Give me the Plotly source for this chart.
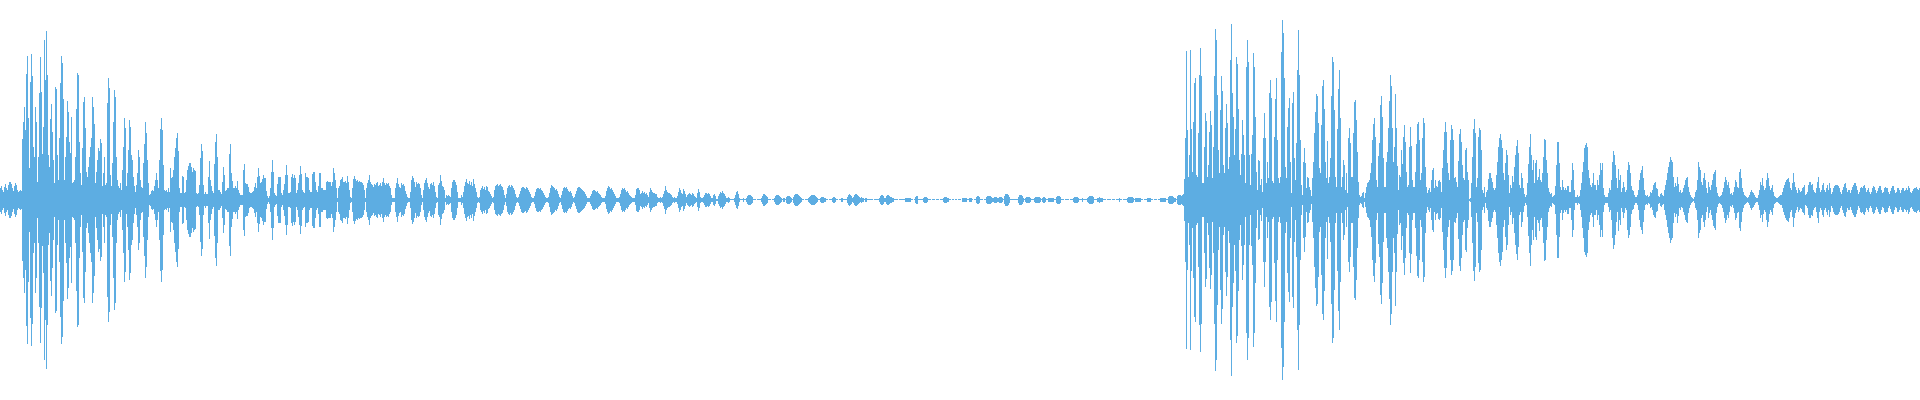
import plotly.graph_objects as go

# Peak amplitude per pixel column (symmetric waveform envelope)
amp_attack_1 = [
    12,14,10,8,13,16,12,10,15,18,
    18,16,12,9,14,17,15,10,8,9,
    10,9,61,78,93,70,126,144,82,32,
    118,146,124,53,43,93,78,18,43,107,
    143,108,46,73,160,120,169,125,45,33,
    81,96,68,40,17,113,111,45,20,62,
    117,144,137,101,20,43,63,99,88,58,
    47,83,17,18,20,43,91,127,125,58,
    27,15,52,98,103,72,28,23,33,43,
    53,62,103,93,76,17,28,40,52,49,
    61,57,14,27,43,15,17,97,122,112,
    25,14,37,78,110,103,43,20,14,12,
    17,10,30,53,82,72,14,27,50,80,
    73,45,40,23,14,8,15,27,50,43,
    20,13,12,37,56,78,67,40,17,5,
    6,9,10,9,14,20,27,20,12,40,
]
amp_decay_1 = [
    71,82,70,35,10,9,10,8,12,8,
    32,22,23,30,43,52,62,67,49,12,
    7,7,24,23,7,8,20,30,34,37,
    37,33,28,32,30,29,7,6,7,15,
    42,56,49,15,6,8,6,6,23,39,
    20,14,9,7,36,58,66,43,10,10,
    8,6,18,33,25,9,10,12,12,46,
    56,27,19,12,12,14,12,19,10,7,
    5,5,5,30,36,17,16,16,13,8,
    7,7,8,9,13,17,12,23,32,24,
    17,18,21,25,22,22,9,4,2,4,
    12,28,40,28,7,5,4,16,23,23,
    23,7,5,10,16,25,35,25,7,7,
    8,23,26,22,25,22,7,10,17,25,
    34,26,10,8,7,27,23,23,22,10,
    8,8,26,28,28,18,10,8,14,27,
    27,12,12,10,10,10,18,19,18,18,
]
amp_tail_1 = [
    18,14,18,32,27,20,12,2,12,14,
    20,21,23,18,18,19,17,24,18,10,
    3,2,12,21,24,21,19,20,18,19,
    18,18,17,15,10,2,12,17,20,25,
    18,16,15,13,16,15,17,18,14,15,
    17,14,18,22,17,15,17,16,17,14,
    12,5,2,2,2,12,17,22,16,13,
    12,17,15,16,14,9,6,3,2,2,
    8,20,24,22,18,13,18,16,17,16,
    12,5,2,10,17,20,22,17,13,11,
    16,17,15,18,14,8,3,2,15,17,
    25,19,14,13,10,2,5,4,5,4,
    3,12,18,20,20,18,15,8,2,2,
    2,5,3,8,14,18,21,17,16,19,
    15,18,14,21,16,12,8,3,2,3,
    10,12,14,11,13,10,14,13,9,8,
    6,4,2,3,10,14,15,16,14,15,
    16,14,13,10,5,2,6,12,14,15,
    13,15,14,12,10,6,3,2,3,6,
    9,12,13,13,12,11,13,12,10,8,
    6,3,2,2,4,8,11,12,12,11,
    12,10,9,7,5,3,2,2,3,7,
    12,15,14,13,12,10,11,9,6,3,
    2,5,9,12,13,12,13,11,9,8,
    9,7,4,2,3,6,9,12,13,13,
    12,11,10,9,8,6,4,2,2,2,
    4,6,9,10,10,9,8,9,7,6,
    5,3,2,2,2,4,9,12,14,13,
    11,12,10,8,6,4,2,2,2,3,
    6,10,12,11,12,10,8,9,7,5,
    4,3,2,2,2,5,11,12,12,10,
]
amp_quiet = [
    6,7,9,7,8,6,7,5,3,8,
    12,10,8,7,7,6,6,3,2,2,
    3,2,3,6,9,14,10,8,7,7,
    6,5,3,2,3,2,2,4,8,12,
    10,7,6,11,9,6,3,5,6,7,
    6,5,7,6,4,3,2,7,11,8,
    3,2,2,3,5,7,7,6,7,6,
    4,2,2,5,6,4,1,1,4,6,
    8,7,9,7,6,4,2,2,3,2,
    .5,.5,.5,.5,2,5,8,9,6,2,
    .5,.5,.5,2,.5,.5,2,4,5,5,
    5,4,3,.5,.5,.5,0,.5,.5,.5,
    .5,2,4,6,6,5,4,3,.5,.5,
    .5,0,.5,.5,2,4,5,5,5,4,
    3,2,.5,2,2,.5,3,4,4,4,
    3,2,.5,3,5,6,6,6,5,4,
    3,2,.5,.5,0,.5,.5,.5,2,3,
    4,5,5,5,5,4,3,2,.5,.5,
    2,3,3,3,2,2,.5,.5,0,.5,
    .5,.5,2,3,3,2,.5,.5,0,.5,
    .5,2,2,.5,.5,.5,.5,3,5,6,
    5,4,2,3,5,6,6,5,4,3,
    2,3,2,2,.5,2,2,.5,.5,.5,
    .5,.5,.5,0,.5,.5,.5,.5,.5,2,
    4,5,5,4,2,2,4,5,5,4,
    3,3,2,2,.5,.5,.5,.5,0,.5,
    .5,.5,.5,.5,.5,2,2,2,2,2,
    2,.5,.5,0,.5,3,4,4,.5,.5,
    .5,.5,.5,2,3,3,3,2,.5,.5,
    .5,0,.5,.5,.5,0,.5,.5,.5,0,
    .5,.5,.5,2,3,3,3,2,2,.5,
    .5,0,.5,.5,0,.5,.5,0,.5,.5,
    .5,0,2,2,2,2,2,.5,.5,2,
    2,2,.5,0,.5,.5,3,4,4,3,
    .5,.5,.5,0,.5,.5,3,4,4,4,
    4,3,2,2,3,3,3,2,2,3,
    3,3,2,.5,4,6,6,6,5,3,
    .5,.5,.5,.5,.5,.5,.5,.5,3,5,
    5,5,4,2,.5,2,3,3,3,3,
    2,.5,.5,.5,2,3,3,3,3,3,
    2,.5,2,3,3,2,.5,.5,2,2,
    2,2,2,2,.5,.5,3,4,4,4,
    3,.5,.5,.5,0,.5,.5,.5,.5,0,
    .5,.5,.5,2,3,3,3,3,2,.5,
    .5,.5,2,.5,.5,.5,.5,2,3,4,
    4,4,4,3,.5,.5,.5,2,2,3,
    2,2,2,.5,.5,.5,0,.5,.5,.5,
    .5,0,.5,.5,.5,0,.5,.5,.5,2,
    .5,.5,0,.5,.5,.5,.5,2,3,3,
    3,3,3,2,.5,2,2,2,2,2,
    2,.5,.5,0,.5,.5,.5,2,2,2,
    2,.5,.5,0,.5,.5,.5,0,.5,.5,
    2,2,2,2,2,2,.5,.5,3,4,
    4,4,4,3,2,2,.5,4,5,5,
]
amp_attack_2 = [
    5,4,5,6,21,62,149,70,23,45,
    150,71,28,78,117,122,25,23,67,125,
    152,124,17,17,53,87,79,23,35,68,
    89,75,22,53,124,171,160,105,50,27,
    90,124,109,35,27,72,96,77,31,43,
    140,176,107,83,45,71,143,136,91,40,
    25,46,80,65,45,17,133,160,138,45,
    15,46,65,147,133,83,28,10,40,39,
    15,21,8,62,87,62,17,38,22,107,
    120,102,19,17,63,101,122,60,22,17,
    23,148,180,167,122,33,22,73,92,102,
    38,7,97,108,42,20,57,130,170,125,
    60,15,5,38,52,37,12,23,22,13,
    10,4,22,38,67,88,106,104,77,32,
    27,75,114,120,91,38,22,59,17,23,
]
amp_decay_2 = [
    42,104,143,138,90,23,13,71,111,130,
    82,13,23,40,35,10,27,7,62,72,
    57,23,23,67,98,100,80,48,18,5,
    3,4,7,8,2,7,13,17,18,20,
    27,37,60,76,82,63,20,13,44,57,
    95,104,83,42,13,13,38,48,72,99,
    125,114,72,38,53,106,72,34,10,25,
    23,50,36,63,75,58,28,13,15,53,
    73,54,20,13,13,28,56,76,78,60,
    20,27,62,82,77,33,13,7,10,12,
    8,20,30,32,12,20,14,13,19,20,
    18,8,32,50,68,78,68,37,27,20,
    60,75,71,60,22,23,18,13,39,66,
    71,58,35,22,20,50,52,28,20,1,
    2,17,43,71,81,67,13,22,63,72,
    70,50,10,7,13,3,8,10,21,27,
]
amp_decay_3 = [
    27,22,18,12,10,12,25,38,53,62,
    66,60,52,27,20,37,50,45,25,7,
    15,12,24,18,33,45,54,60,47,15,
    12,27,22,12,6,3,5,17,36,53,
    66,45,30,40,17,37,40,20,23,31,
    20,18,27,43,61,60,40,27,12,8,
    6,7,3,4,5,14,35,58,58,37,
    13,10,20,13,10,12,10,14,14,8,
    8,20,37,30,10,3,3,5,3,4,
    10,17,28,38,52,55,57,53,30,22,
    15,13,17,27,15,15,10,20,15,25,
]
amp_tail_2 = [
    37,30,37,12,5,3,3,3,7,12,
    10,20,38,49,45,35,22,12,31,20,
    25,8,12,18,13,8,10,30,38,35,
    27,14,10,9,5,3,3,5,10,20,
    27,30,34,22,10,5,4,5,3,4,
    8,7,10,15,17,18,12,11,4,3,
    6,7,5,4,10,15,20,27,33,38,
    43,40,38,23,13,17,14,23,16,8,
    10,7,8,12,15,20,22,23,13,8,
    5,3,2,1,3,8,10,20,38,33,
    30,18,15,22,27,20,12,7,18,13,
    10,15,20,26,28,30,13,7,4,3,
    4,5,8,12,18,23,20,15,18,12,
    6,7,5,8,13,20,18,13,12,28,
    31,22,12,8,5,4,3,2,3,5,
    8,10,8,7,5,3,2,2,5,10,
    18,15,22,14,10,12,20,27,22,14,
    10,12,15,8,4,3,2,2,3,4,
    5,5,8,12,15,18,20,21,22,18,
    12,10,17,27,18,13,10,7,12,10,
    8,9,12,13,15,5,6,8,15,18,
    18,15,16,10,8,7,12,18,23,12,
    8,10,15,17,10,8,12,15,10,17,
    12,6,8,12,14,15,15,15,14,12,
    8,6,10,13,16,17,12,8,10,10,
    7,10,13,15,17,17,14,10,6,8,
    12,13,12,14,15,12,8,10,12,8,
    6,8,12,14,13,10,7,9,12,14,
    14,10,7,8,12,13,12,12,8,6,
    9,12,14,14,10,7,8,12,12,10,
    7,10,12,12,9,10,12,10,14,12,
    8,7,9,11,12,12,13,11,10,12,
]

segments = [amp_attack_1, amp_decay_1, amp_tail_1, amp_quiet,
            amp_attack_2, amp_decay_2, amp_decay_3, amp_tail_2]
amplitude = [v for seg in segments for v in seg]
if len(amplitude) != 1920:
    raise SystemExit("lengths: %s total %d" % ([len(s) for s in segments], len(amplitude)))

sample = list(range(len(amplitude)))

fig = go.Figure(go.Bar(
    x=sample,
    y=[2 * a for a in amplitude],
    base=[-a for a in amplitude],
    marker=dict(color="rgba(93,173,226,0.999)", line=dict(width=0)),
    hoverinfo="skip",
))
fig.update_layout(
    width=1920, height=400,
    margin=dict(l=0, r=0, t=0, b=0),
    paper_bgcolor="white", plot_bgcolor="white",
    bargap=0, bargroupgap=0, showlegend=False,
    xaxis=dict(visible=False, range=[-0.5, len(amplitude) - 0.5], fixedrange=True),
    yaxis=dict(visible=False, range=[-200.5, 199.5], fixedrange=True),
)
fig.write_html(
    "out.html",
    config={"displayModeBar": False},
    post_script="document.body.style.margin='0';document.body.style.overflow='hidden';",
)
